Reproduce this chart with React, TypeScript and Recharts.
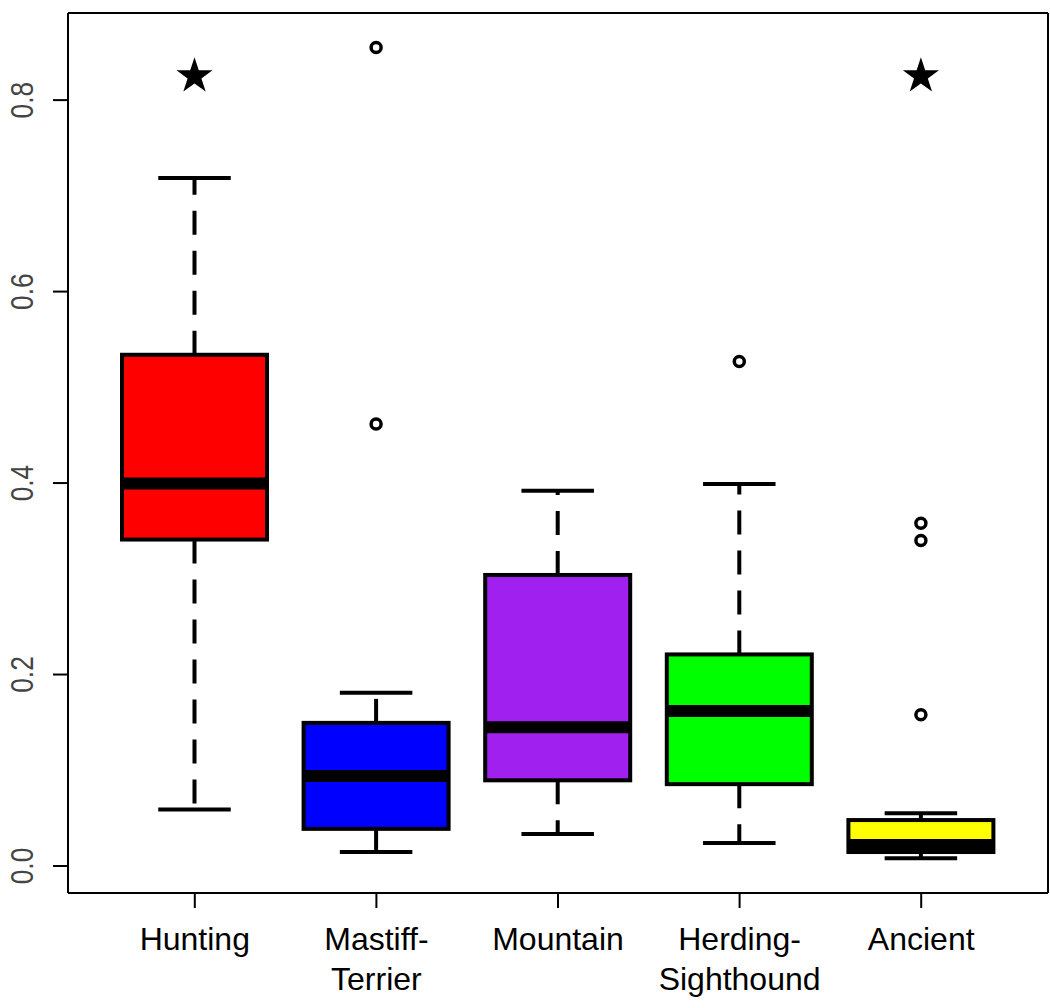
import React from "react"
import { Bar, CartesianGrid, ComposedChart, XAxis, YAxis } from "recharts"

// boxplot statistics per breed group
const groups = ["Hunting", "Mastiff-Terrier", "Mountain", "Herding-Sighthound", "Ancient"]
const labelLines = [["Hunting"], ["Mastiff-", "Terrier"], ["Mountain"], ["Herding-", "Sighthound"], ["Ancient"]]
const whiskerLow = [0.059, 0.0145, 0.0335, 0.024, 0.008]
const lowerQuartile = [0.341, 0.0388, 0.0895, 0.0855, 0.0146]
const medians = [0.3995, 0.094, 0.145, 0.162, 0.022]
const upperQuartile = [0.534, 0.1495, 0.304, 0.221, 0.048]
const whiskerHigh = [0.7186, 0.181, 0.392, 0.399, 0.055]
const outliers = [[], [0.4616, 0.855], [], [0.527], [0.158, 0.34, 0.358]]
const stars = [0.825, null, null, null, 0.825]
const boxColors = ["#ff0000", "#0000ff", "#a020f0", "#00ff00", "#ffff00"]

const yTicks = [0, 0.2, 0.4, 0.6, 0.8]
const yMin = -0.0282
const yMax = 0.891

const chartData = groups.map((name, i) => ({
  name,
  lines: labelLines[i],
  low: whiskerLow[i],
  q1: lowerQuartile[i],
  med: medians[i],
  q3: upperQuartile[i],
  high: whiskerHigh[i],
  out: outliers[i],
  star: stars[i],
  color: boxColors[i],
}))

function starPath(cx: number, cy: number, r: number) {
  const inner = r * 0.382
  let d = ""
  for (let k = 0; k < 10; k++) {
    const rad = k % 2 === 0 ? r : inner
    const a = -Math.PI / 2 + (k * Math.PI) / 5
    d += (k === 0 ? "M" : "L") + (cx + rad * Math.cos(a)).toFixed(2) + "," + (cy + rad * Math.sin(a)).toFixed(2)
  }
  return d + "Z"
}

// the bar spans low..high whisker, everything else is placed on the same linear scale
function BoxShape(props: any) {
  const { x, y, width, height, payload } = props
  const top = Math.min(y, y + height)
  const bottom = Math.max(y, y + height)
  const px = (v: number) => bottom - ((v - payload.low) / (payload.high - payload.low)) * (bottom - top)
  const cx = x + width / 2
  const cap = width / 4
  return (
    <g>
      <line x1={cx} x2={cx} y1={px(payload.q3)} y2={px(payload.high)} stroke="#000" strokeWidth={4} strokeDasharray="24 16" />
      <line x1={cx} x2={cx} y1={px(payload.q1)} y2={px(payload.low)} stroke="#000" strokeWidth={4} strokeDasharray="24 16" />
      <line x1={cx - cap} x2={cx + cap} y1={px(payload.high)} y2={px(payload.high)} stroke="#000" strokeWidth={4} />
      <line x1={cx - cap} x2={cx + cap} y1={px(payload.low)} y2={px(payload.low)} stroke="#000" strokeWidth={4} />
      <rect
        x={x}
        y={px(payload.q3)}
        width={width}
        height={px(payload.q1) - px(payload.q3)}
        fill={payload.color}
        stroke="#000"
        strokeWidth={4}
      />
      <line x1={x} x2={x + width} y1={px(payload.med)} y2={px(payload.med)} stroke="#000" strokeWidth={12} />
      {payload.out.map((v: number, k: number) => (
        <circle key={k} cx={cx} cy={px(v)} r={5} fill="none" stroke="#000" strokeWidth={3.5} />
      ))}
      {payload.star != null && <path d={starPath(cx, px(payload.star), 19)} fill="#000" />}
    </g>
  )
}

function CategoryTick(props: any) {
  const { x, y, index } = props
  const lines = chartData[index]?.lines ?? [props.payload.value]
  return (
    <text x={x} textAnchor="middle" fontSize={32} fill="#000" fontFamily="Liberation Sans, Arial, sans-serif">
      {lines.map((line: string, k: number) => (
        <tspan key={k} x={x} y={y + 40 + k * 40}>
          {line}
        </tspan>
      ))}
    </text>
  )
}

function ValueTick(props: any) {
  const { y, payload } = props
  return (
    <text
      transform={`translate(33, ${y}) rotate(-90) scale(0.85, 1)`}
      textAnchor="middle"
      fontSize={31}
      fill="#444"
      fontFamily="Liberation Sans, Arial, sans-serif"
    >
      {Number(payload.value).toFixed(1)}
    </text>
  )
}

export default function App() {
  return (
    <div style={{ position: "absolute", left: 0, top: 0, width: 1050, height: 1008, background: "#fff" }}>
      <ComposedChart width={1050} height={1008} data={chartData} margin={{ top: 13, right: 2, bottom: 0, left: 0 }}>
        <CartesianGrid
          stroke="#000"
          strokeWidth={2}
          horizontalCoordinatesGenerator={({ offset }: any) => [offset.top, offset.top + offset.height]}
          verticalCoordinatesGenerator={({ offset }: any) => [offset.left, offset.left + offset.width]}
        />
        <XAxis
          dataKey="name"
          type="category"
          padding={{ left: 36, right: 36 }}
          height={115}
          axisLine={{ stroke: "#000", strokeWidth: 2 }}
          tickLine={{ stroke: "#000", strokeWidth: 2 }}
          tickSize={15}
          tick={<CategoryTick />}
          interval={0}
        />
        <YAxis
          type="number"
          domain={[yMin, yMax]}
          ticks={yTicks}
          allowDataOverflow
          width={68}
          axisLine={{ stroke: "#000", strokeWidth: 2 }}
          tickLine={{ stroke: "#000", strokeWidth: 2 }}
          tickSize={15}
          tick={<ValueTick />}
        />
        <Bar
          dataKey={(d: any) => [d.low, d.high]}
          barSize={145}
          shape={<BoxShape />}
          isAnimationActive={false}
        />
      </ComposedChart>
    </div>
  )
}
